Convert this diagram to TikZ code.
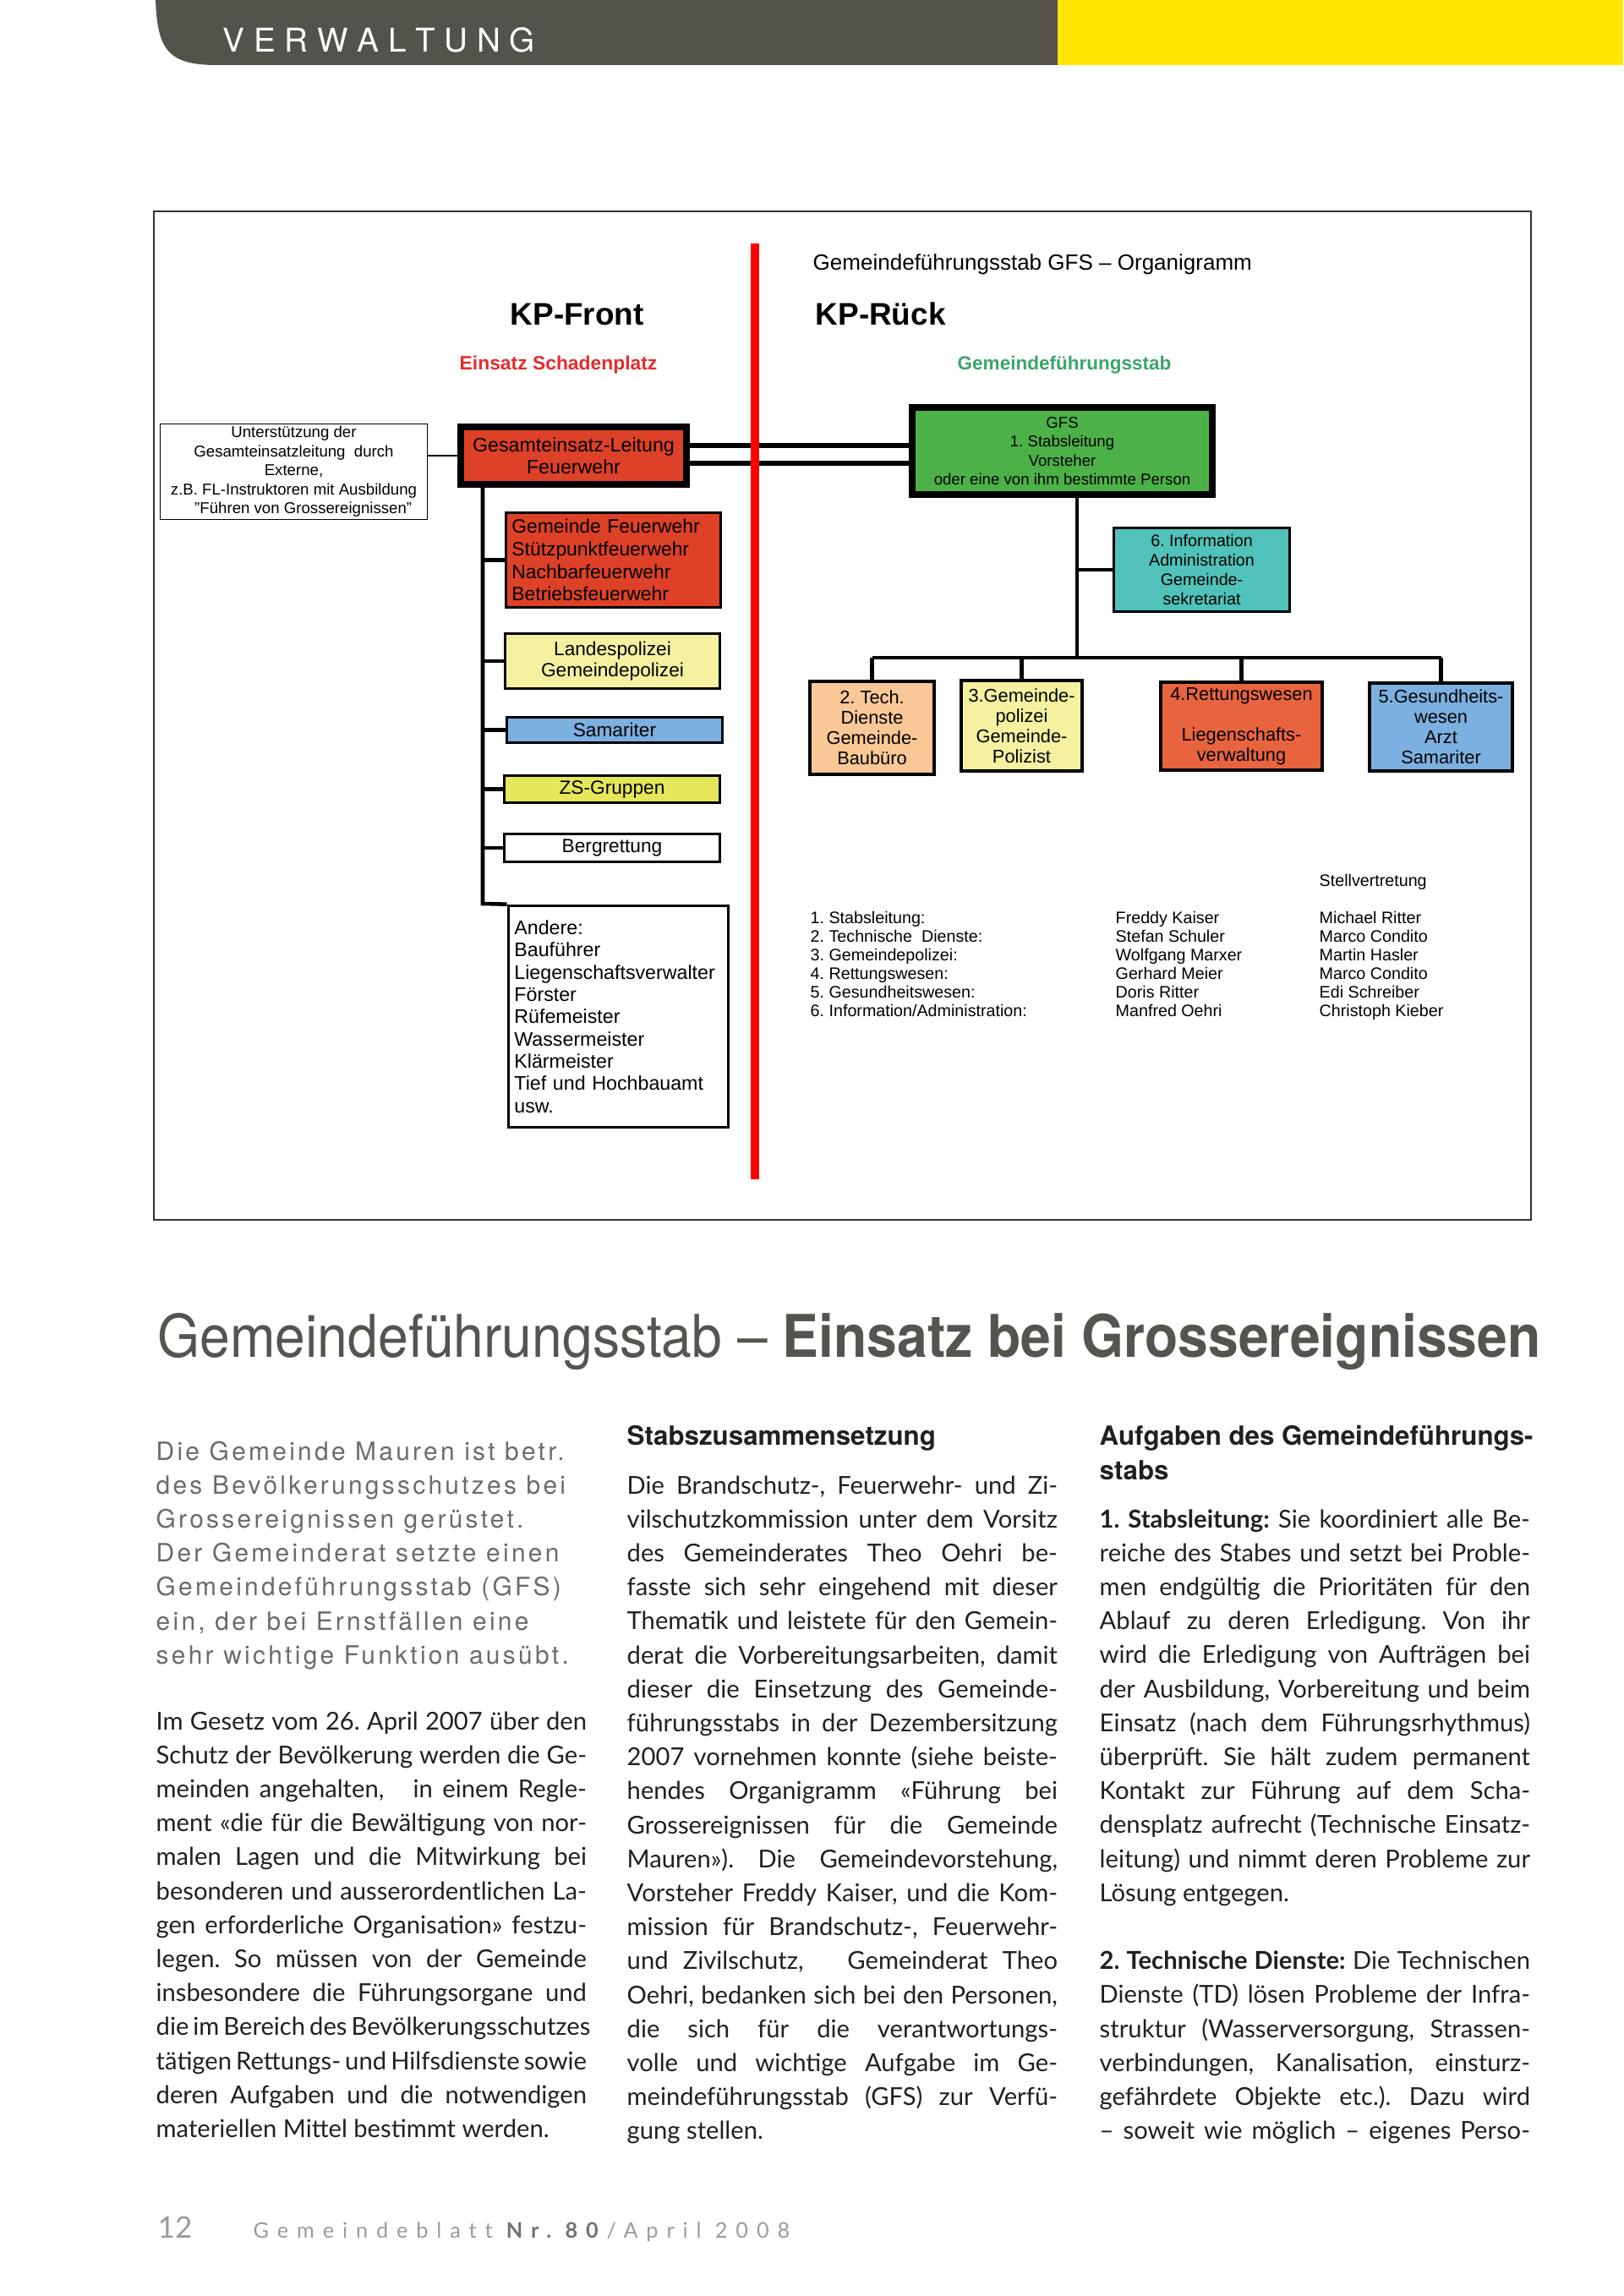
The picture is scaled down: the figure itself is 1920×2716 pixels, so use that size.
\documentclass[tikz,border=0pt]{standalone}
\usepackage{fontspec}
\usepackage{graphicx}
\setmainfont{Liberation Sans}
\newfontfamily\bodyfont{Lato}
\newfontfamily\headfont{TeX Gyre Heros}
\newfontfamily\introfont[LetterSpace=11]{TeX Gyre Heros}
\newfontfamily\footfont[LetterSpace=39,Ligatures=NoCommon]{Lato}
\frenchspacing

\definecolor{bandgray}{HTML}{53524B}
\definecolor{bandyellow}{HTML}{FFE500}
\definecolor{firered}{HTML}{DD4127}
\definecolor{gfsgreen}{HTML}{4CB248}
\definecolor{infoteal}{HTML}{50C2BA}
\definecolor{techpeach}{HTML}{FAC896}
\definecolor{palelemon}{HTML}{F4F2A0}
\definecolor{rettorange}{HTML}{E8643E}
\definecolor{samblue}{HTML}{7CB0E0}
\definecolor{zsyellow}{HTML}{E6E65A}
\definecolor{titlered}{HTML}{E52B2B}
\definecolor{titlegreen}{HTML}{3AA56B}
\definecolor{headgray}{HTML}{55544E}
\definecolor{introgray}{HTML}{6B6B6B}
\definecolor{bodyblack}{HTML}{231F20}
\definecolor{footgray}{HTML}{9C9C96}

\newcommand\jl[1]{\makebox[5.09cm][s]{#1}}

\tikzset{
  box/.style={draw, inner sep=0pt, align=center},
  bigbox/.style={box, line width=2.3pt},
  midbox/.style={box, line width=1.2pt, font=\fontsize{6.2}{6.8}\selectfont},
  leftbox/.style={box, line width=1pt, font=\fontsize{6.45}{7.2}\selectfont},
  trunk/.style={line width=1.3pt},
  bus/.style={line width=1.4pt},
  label/.style={anchor=base west, inner sep=0pt},
  bodytxt/.style={label, text=bodyblack, font=\bodyfont\fontsize{8.3}{11.44}\selectfont},
  listtxt/.style={label, font=\fontsize{5.6}{6.5}\selectfont}
}

\begin{document}
\begin{tikzpicture}[x=0.01cm, y=-0.01cm]

\useasboundingbox (0,0) rectangle (1920,2716);
\fill[white] (0,0) rectangle (1920,2716);

% Kopfzeile
\fill[bandgray] (184,0) .. controls (186,60) and (200,77) .. (257,77) -- (1251,77) -- (1251,0) -- cycle;
\fill[bandyellow] (1251,0) rectangle (1920,77);
\node(rubrik)[label, text=white, font=\headfont\fontsize{11}{13}\selectfont] at (263,62)
  {\makebox[3.69cm][s]{V E R W A L T U N G}};

% Organigramm
\draw[line width=0.5pt, black!80] (182,250) rectangle (1811,1443);

\node(title)[label, font=\fontsize{7.4}{9}\selectfont] at (961,320) {Gemeindeführungsstab GFS – Organigramm};
\node(front)[label, font=\bfseries\fontsize{10.5}{12}\selectfont] at (603,385) {KP-Front};
\node(rueck)[label, font=\bfseries\fontsize{10.5}{12}\selectfont] at (964,385) {KP-Rück};
\node(schaden)[label, text=titlered, font=\bfseries\fontsize{6.5}{8}\selectfont] at (543,438) {Einsatz Schadenplatz};
\node(stab)[label, text=titlegreen, font=\bfseries\fontsize{6.4}{8}\selectfont] at (1132,438) {Gemeindeführungsstab};

\node(ext)[box, line width=0.4pt, minimum width=3.16cm, minimum height=1.13cm, font=\fontsize{5.3}{6.4}\selectfont] at (347.5,558)
  {Unterstützung der\\Gesamteinsatzleitung~ durch\\Externe,\\z.B. FL-Instruktoren mit Ausbildung\\\hspace*{1.2em}"Führen von Grossereignissen"};
\node(gel)[bigbox, fill=firered, minimum width=2.67cm, minimum height=0.68cm, font=\fontsize{6.6}{7.4}\selectfont] at (678.5,539)
  {Gesamteinsatz-Leitung\\Feuerwehr};
\node(gfs)[bigbox, fill=gfsgreen, minimum width=3.55cm, minimum height=1.03cm, font=\fontsize{5.3}{6.4}\selectfont] at (1256.5,533.5)
  {GFS\\1. Stabsleitung\\Vorsteher\\oder eine von ihm bestimmte Person};
\node(info)[box, line width=1pt, fill=infoteal, minimum width=2.08cm, minimum height=0.99cm, font=\fontsize{5.6}{6.5}\selectfont] at (1421.5,674)
  {6. Information\\Administration\\Gemeinde-\\sekretariat};

\node(tech)[midbox, fill=techpeach, minimum width=1.47cm, minimum height=1.10cm] at (1031.5,861) {2. Tech.\\Dienste\\Gemeinde-\\Baubüro};
\node(pol)[midbox, fill=palelemon, minimum width=1.43cm, minimum height=1.07cm] at (1208.5,858.5) {3.Gemeinde-\\polizei\\Gemeinde-\\Polizist};
\node(rett)[midbox, fill=rettorange, minimum width=1.91cm, minimum height=1.04cm] at (1468.5,859) {4.Rettungswesen\\[6.8pt]Liegenschafts-\\verwaltung};
\node(ges)[midbox, fill=samblue, minimum width=1.69cm, minimum height=1.04cm] at (1704.5,860) {5.Gesundheits-\\wesen\\Arzt\\Samariter};

\node(feu)[leftbox, fill=firered, align=left, text width=2.4cm, inner xsep=0.07cm, minimum height=1.12cm, font=\fontsize{6.5}{7.6}\selectfont] at (725.5,662.5)
  {Gemeinde Feuerwehr\\Stützpunktfeuerwehr\\Nachbarfeuerwehr\\Betriebsfeuerwehr};
\node(land)[leftbox, fill=palelemon, minimum width=2.54cm, minimum height=0.65cm] at (724.5,782) {Landespolizei\\Gemeindepolizei};
\node(sam)[leftbox, fill=samblue, minimum width=2.55cm, minimum height=0.30cm] at (727,863.5) {Samariter};
\node(zs)[leftbox, fill=zsyellow, minimum width=2.55cm, minimum height=0.32cm] at (724,933.5) {ZS-Gruppen};
\node(berg)[leftbox, minimum width=2.55cm, minimum height=0.33cm] at (724,1003) {Bergrettung};
\node(andere)[leftbox, align=left, text width=2.46cm, inner xsep=0.07cm, minimum height=2.62cm, font=\fontsize{6.6}{7.5}\selectfont] at (731.5,1202.5)
  {Andere:\\Bauführer\\Liegenschaftsverwalter\\Förster\\Rüfemeister\\Wassermeister\\Klärmeister\\Tief und Hochbauamt\\usw.};

\coordinate(tr) at (571,1069);
\coordinate(st) at (1274,778);

\draw[line width=0.5pt] (gel.west) -- (gel.west -| ext.east);
\draw[line width=1.7pt] ([yshift=0.12cm]gel.east) -- ([yshift=0.12cm]gel.east -| gfs.west);
\draw[line width=1.7pt] ([yshift=-0.09cm]gel.east) -- ([yshift=-0.09cm]gel.east -| gfs.west);

\draw[trunk] (gel.south -| tr) -- (tr) -- (andere.north west);
\foreach \b in {feu,land,sam,zs,berg}
  \draw[trunk] (\b.west) -- (\b.west -| tr);

\draw[line width=1.1pt] (gfs.south -| st) -- (st);
\draw[bus] (info.west) -- (info.west -| st);
\draw[bus] (tech.north |- st) -- (ges.north |- st);
\foreach \b in {tech,pol,rett,ges}
  \draw[bus] (\b.north) -- (\b.north |- st);

\coordinate(r0) at (893,288);
\coordinate(r1) at (893,1395);
\draw[red, line width=3.1pt] (r0) -- (r1);

\node(stv)[listtxt] at (1560,1048) {Stellvertretung};
\foreach \a/\n/\s [count=\i from 0] in {
  1. Stabsleitung:/Freddy Kaiser/Michael Ritter,
  2. Technische~ Dienste:/Stefan Schuler/Marco Condito,
  3. Gemeindepolizei:/Wolfgang Marxer/Martin Hasler,
  4. Rettungswesen:/Gerhard Meier/Marco Condito,
  5. Gesundheitswesen:/Doris Ritter/Edi Schreiber,
  {6. Information/Administration:}/Manfred Oehri/Christoph Kieber}
{
  \node(amt\i)[listtxt] at (958,1092+22*\i) {\a};
  \node(chef\i)[listtxt] at (1319,1092+22*\i) {\n};
  \node(stv\i)[listtxt] at (1560,1092+22*\i) {\s};
}

% Artikel
\node(head)[label, text=headgray, font=\headfont\fontsize{19.8}{22}\selectfont] at (186,1605)
  {\scalebox{0.923}[1]{Gemeindeführungsstab – \textbf{Einsatz bei Grossereignissen}}};

\foreach \t [count=\i from 0] in {
  Die Gemeinde Mauren ist betr.,
  des Bevölkerungsschutzes bei,
  Grossereignissen gerüstet.,
  Der Gemeinderat setzte einen,
  Gemeindeführungsstab (GFS),
  {ein, der bei Ernstfällen eine},
  sehr wichtige Funktion ausübt.}
  \node(intro\i)[label, text=introgray, font=\introfont\fontsize{8.5}{11.44}\selectfont] at (184,1727+40.2*\i) {\t};

\foreach \t [count=\i from 0] in {
  Im Gesetz vom 26. April 2007 über den,
  Schutz der Bevölkerung werden die Ge-,
  {meinden angehalten, ~ in einem Regle-},
  ment «die für die Bewältigung von nor-,
  malen Lagen und die Mitwirkung bei,
  besonderen und ausserordentlichen La-,
  gen erforderliche Organisation» festzu-,
  legen. So müssen von der Gemeinde,
  insbesondere die Führungsorgane und,
  die im Bereich des Bevölkerungsschutzes,
  tätigen Rettungs- und Hilfsdienste sowie,
  deren Aufgaben und die notwendigen}
  \node(spa\i)[bodytxt] at (184,2046+40.2*\i) {\jl{\t}};
\node(spa12)[bodytxt] at (184,2528.4) {materiellen Mittel bestimmt werden.};

\node(h2)[label, text=bodyblack, font=\headfont\bfseries\fontsize{8.9}{11}\selectfont] at (741,1709) {Stabszusammensetzung};
\foreach \t [count=\i from 0] in {
  {Die Brandschutz-, Feuerwehr- und Zi-},
  vilschutzkommission unter dem Vorsitz,
  des Gemeinderates Theo Oehri be-,
  fasste sich sehr eingehend mit dieser,
  Thematik und leistete für den Gemein-,
  {derat die Vorbereitungsarbeiten, damit},
  dieser die Einsetzung des Gemeinde-,
  führungsstabs in der Dezembersitzung,
  2007 vornehmen konnte (siehe beiste-,
  hendes Organigramm «Führung bei,
  Grossereignissen für die Gemeinde,
  {Mauren»). Die Gemeindevorstehung,},
  {Vorsteher Freddy Kaiser, und die Kom-},
  {mission für Brandschutz-, Feuerwehr-},
  {und Zivilschutz, ~ Gemeinderat Theo},
  {Oehri, bedanken sich bei den Personen,},
  die sich für die verantwortungs-,
  volle und wichtige Aufgabe im Ge-,
  meindeführungsstab (GFS) zur Verfü-}
  \node(spb\i)[bodytxt] at (741,1767+40.2*\i) {\jl{\t}};
\node(spb19)[bodytxt] at (741,2530.8) {gung stellen.};

\node(h3a)[label, text=bodyblack, font=\headfont\bfseries\fontsize{8.9}{11}\selectfont] at (1300,1709) {Aufgaben des Gemeindeführungs-};
\node(h3b)[label, text=bodyblack, font=\headfont\bfseries\fontsize{8.9}{11}\selectfont] at (1300,1750) {stabs};
\foreach \t [count=\i from 0] in {
  \textbf{1. Stabsleitung:} Sie koordiniert alle Be-,
  reiche des Stabes und setzt bei Proble-,
  men endgültig die Prioritäten für den,
  Ablauf zu deren Erledigung. Von ihr,
  wird die Erledigung von Aufträgen bei,
  {der Ausbildung, Vorbereitung und beim},
  Einsatz (nach dem Führungsrhythmus),
  überprüft. Sie hält zudem permanent,
  Kontakt zur Führung auf dem Scha-,
  densplatz aufrecht (Technische Einsatz-,
  leitung) und nimmt deren Probleme zur}
  \node(spc\i)[bodytxt] at (1300,1807+40.2*\i) {\jl{\t}};
\node(spc11)[bodytxt] at (1300,2249.2) {Lösung entgegen.};
\foreach \t [count=\i from 13] in {
  \textbf{2. Technische Dienste:} Die Technischen,
  Dienste (TD) lösen Probleme der Infra-,
  {struktur (Wasserversorgung, Strassen-},
  {verbindungen, Kanalisation, einsturz-},
  gefährdete Objekte etc.). Dazu wird,
  – soweit wie möglich – eigenes Perso-}
  \node(spc\i)[bodytxt] at (1300,1807+40.2*\i) {\jl{\t}};

% Fusszeile
\node(seite)[label, text=footgray, font=\bodyfont\fontsize{10}{12}\selectfont] at (186,2647) {12};
\node(blatt)[label, text=footgray, font=\footfont\fontsize{7.2}{9}\selectfont] at (299,2647)
  {Gemeindeblatt \textcolor{black!55}{\textbf{Nr. 80}}/April 2008};

\end{tikzpicture}
\end{document}
